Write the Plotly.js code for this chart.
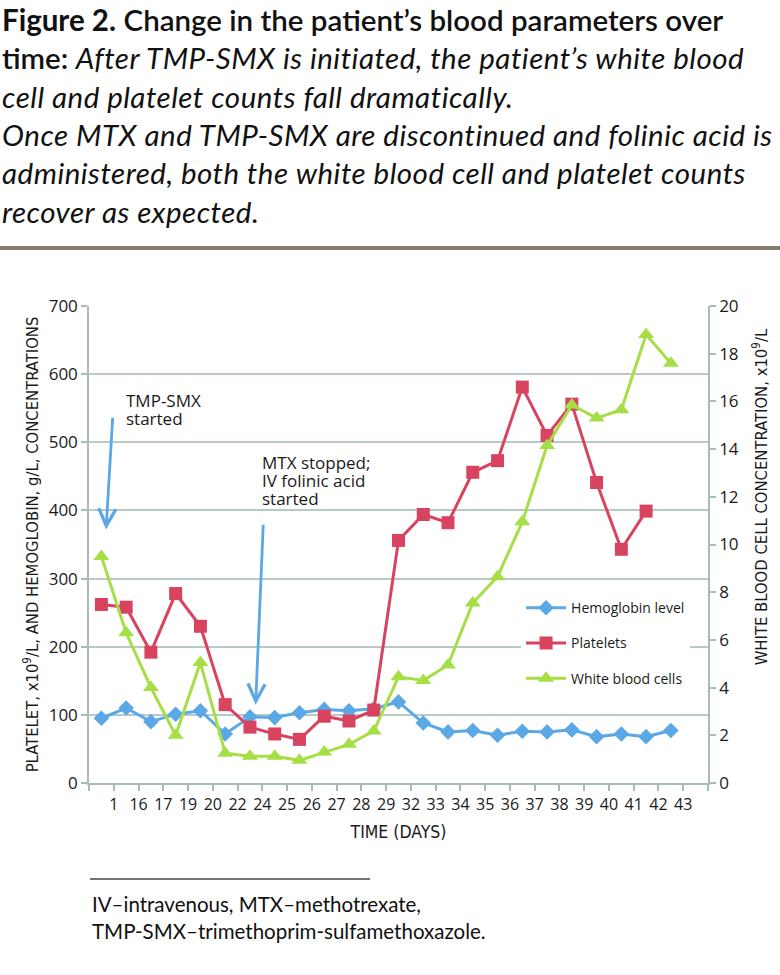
<!DOCTYPE html>
<html>
<head>
<meta charset="utf-8">
<script src="https://cdn.plot.ly/plotly-3.0.1.min.js"></script>
<style>
  body { margin: 0; background: #fff; }
  #chart { width: 780px; height: 975px; }
</style>
</head>
<body>
<div id="chart"></div>
<script>
// day labels under the x axis (as printed in the figure)
const dayLabels = ['1', '16', '17', '19', '20', '22', '24', '25', '26', '27', '28', '29',
                   '32', '33', '34', '35', '36', '37', '38', '39', '40', '41', '42', '43'];

// hemoglobin, g/L (left axis)
const hemoglobin = [95, 110, 90, 101, 106, 72, 97, 96, 103, 108, 106, 109,
                    119, 88, 75, 77, 70, 76, 75, 78, 68, 72, 68, 77];

// platelets, x10^9/L (left axis) - no value on the last day
const platelets = [262, 258, 192, 278, 230, 115, 82, 72, 64, 98, 91, 107,
                   356, 394, 382, 456, 473, 581, 510, 556, 441, 343, 399, null];

// white blood cells, x10^9/L (right axis)
const whiteCells = [9.5, 6.3, 4.0, 2.0, 5.05, 1.25, 1.12, 1.12, 0.95, 1.3, 1.62, 2.18,
                    4.45, 4.3, 4.95, 7.55, 8.65, 10.95, 14.15, 15.85, 15.3, 15.65, 18.8, 17.6];

const blue = '#5aa8e6';
const red = '#d8435f';
const green = '#a6de45';
const axisGrey = '#a9baba';

// points sit in the middle of each slot, labels on the slot boundaries
const xPos = dayLabels.map((d, i) => i + 0.5);
const tickVals = [];
const tickText = [];
for (let i = 0; i <= dayLabels.length + 1; i++) {
    tickVals.push(i);
    tickText.push(i >= 1 && i <= dayLabels.length ? dayLabels[i - 1] : '');
}

const hbTrace = {
    x: xPos, y: hemoglobin,
    name: 'Hemoglobin level', legendgroup: 'a',
    mode: 'lines+markers',
    line: { color: blue, width: 3 },
    marker: { symbol: 'diamond', size: 12, color: blue }
};

const pltTrace = {
    x: xPos, y: platelets,
    name: 'Platelets', legendgroup: 'b',
    mode: 'lines+markers',
    line: { color: red, width: 3 },
    marker: { symbol: 'square', size: 13, color: red }
};

const wbcTrace = {
    x: xPos, y: whiteCells, yaxis: 'y2',
    name: 'White blood cells', legendgroup: 'c',
    mode: 'lines+markers',
    line: { color: green, width: 3 },
    marker: { symbol: 'triangle-up', size: 14, color: green }
};

const narrowFamily = 'Liberation Sans Narrow, DejaVu Sans Condensed, Arial Narrow, sans-serif';
const narrowFont = { family: narrowFamily, size: 16.5, color: '#1a1a1a' };
const noteFont = { family: 'Open Sans, sans-serif', size: 17, color: '#1a1a1a' };

const italicStyle = 'letter-spacing:0.5px';
const titleText =
    '<b>Figure 2.</b> <span style="font-weight:600">Change in the patient’s blood parameters over</span><br>' +
    '<span style="font-weight:600">time:</span> <i><span style="' + italicStyle + '">After TMP-SMX is initiated, the patient’s white blood</span><br>' +
    '<span style="' + italicStyle + '">cell and platelet counts fall dramatically.</span><br>' +
    '<span style="' + italicStyle + '">Once MTX and TMP-SMX are discontinued and folinic acid is</span><br>' +
    '<span style="' + italicStyle + '">administered, both the white blood cell and platelet counts</span><br>' +
    '<span style="' + italicStyle + '">recover as expected.</span></i>';

const footText = 'IV–intravenous, MTX–methotrexate,<br>TMP-SMX–trimethoprim-sulfamethoxazole.';

// note lines next to the arrows: [text, x, y]
const noteLines = [
    ['TMP-SMX', 1.41, 561], ['started', 1.41, 535],
    ['MTX stopped;', 6.91, 471], ['IV folinic acid', 6.91, 444], ['started', 6.91, 418]
];

const annotations = [
    {
        xref: 'paper', yref: 'paper', x: -0.1438, y: 1.642,
        xanchor: 'left', yanchor: 'top', align: 'left', showarrow: false,
        text: titleText,
        font: { family: 'Lato, sans-serif', size: 29.5, color: '#111' }
    },
    {
        xref: 'paper', yref: 'paper', x: 0.0016, y: -0.224,
        xanchor: 'left', yanchor: 'top', align: 'left', showarrow: false,
        text: footText,
        font: { family: 'Lato, sans-serif', size: 20.5, color: '#111' }
    },
    // right axis title, placed by hand because it sits above the middle
    {
        xref: 'paper', yref: 'paper', x: 1.084, y: 0.601,
        xanchor: 'center', yanchor: 'middle', textangle: -90, showarrow: false,
        text: 'WHITE BLOOD CELL CONCENTRATION, x10<sup>9</sup>/L',
        font: narrowFont
    },
    // arrows
    {
        xref: 'x', yref: 'y', axref: 'x', ayref: 'y',
        x: 0.69, y: 372, ax: 0.96, ay: 538, text: '',
        showarrow: true, arrowhead: 5, arrowsize: 1.2, arrowwidth: 2.8, arrowcolor: blue
    },
    {
        xref: 'x', yref: 'y', axref: 'x', ayref: 'y',
        x: 6.73, y: 115, ax: 7.04, ay: 381, text: '',
        showarrow: true, arrowhead: 5, arrowsize: 1.2, arrowwidth: 2.8, arrowcolor: blue
    }
];
noteLines.forEach(l => annotations.push({
    xref: 'x', yref: 'y', x: l[1], y: l[2],
    xanchor: 'left', yanchor: 'middle', showarrow: false,
    text: l[0], font: noteFont
}));

const layout = {
    width: 780,
    height: 975,
    margin: { l: 89, r: 72, t: 306, b: 192 },
    paper_bgcolor: '#fff',
    plot_bgcolor: '#fff',
    font: { family: 'Open Sans, sans-serif', size: 17, color: '#1a1a1a' },
    showlegend: true,
    legend: {
        x: 0.698, y: 0.40, xanchor: 'left', yanchor: 'top',
        bgcolor: '#fff', borderwidth: 0,
        tracegroupgap: 14, itemwidth: 40,
        font: { family: 'Open Sans, sans-serif', size: 14, color: '#1a1a1a' }
    },
    xaxis: {
        range: [0, 25],
        tickmode: 'array', tickvals: tickVals, ticktext: tickText,
        ticks: 'outside', ticklen: 6, tickcolor: axisGrey, tickwidth: 1.5,
        showline: true, linecolor: axisGrey, linewidth: 1.5,
        showgrid: false, zeroline: false,
        tickfont: { family: 'Open Sans, sans-serif', size: 16, color: '#1a1a1a' },
        title: { text: 'TIME (DAYS)', font: { family: narrowFamily, size: 17.5, color: '#1a1a1a' }, standoff: 12 }
    },
    yaxis: {
        range: [0, 700], tick0: 0, dtick: 100,
        ticks: 'outside', ticklen: 6, tickcolor: axisGrey, tickwidth: 1.5,
        showline: true, linecolor: axisGrey, linewidth: 1.5,
        gridcolor: '#b9c8c8', gridwidth: 1.5, zeroline: false,
        tickfont: { family: 'Open Sans, sans-serif', size: 17, color: '#1a1a1a' },
        title: { text: 'PLATELET, x10<sup>9</sup>/L, AND HEMOGLOBIN, g/L, CONCENTRATIONS', font: narrowFont, standoff: 6 }
    },
    yaxis2: {
        overlaying: 'y', side: 'right',
        range: [0, 20], tick0: 0, dtick: 2,
        ticks: 'outside', ticklen: 6, tickcolor: axisGrey, tickwidth: 1.5,
        showline: true, linecolor: axisGrey, linewidth: 1.5,
        showgrid: false, zeroline: false,
        tickfont: { family: 'Open Sans, sans-serif', size: 17, color: '#1a1a1a' }
    },
    shapes: [
        // rule under the caption
        { type: 'line', xref: 'paper', yref: 'paper', x0: -0.1438, x1: 1.1163, y0: 1.1216, y1: 1.1216,
          line: { color: '#857c6d', width: 4 } },
        // short rule above the footnote
        { type: 'line', xref: 'paper', yref: 'paper', x0: 0.0016, x1: 0.454, y0: -0.2013, y1: -0.2013,
          line: { color: '#444', width: 1.5 } }
    ],
    annotations: annotations
};

Plotly.newPlot('chart', [hbTrace, pltTrace, wbcTrace], layout, { displayModeBar: false });
</script>
</body>
</html>
